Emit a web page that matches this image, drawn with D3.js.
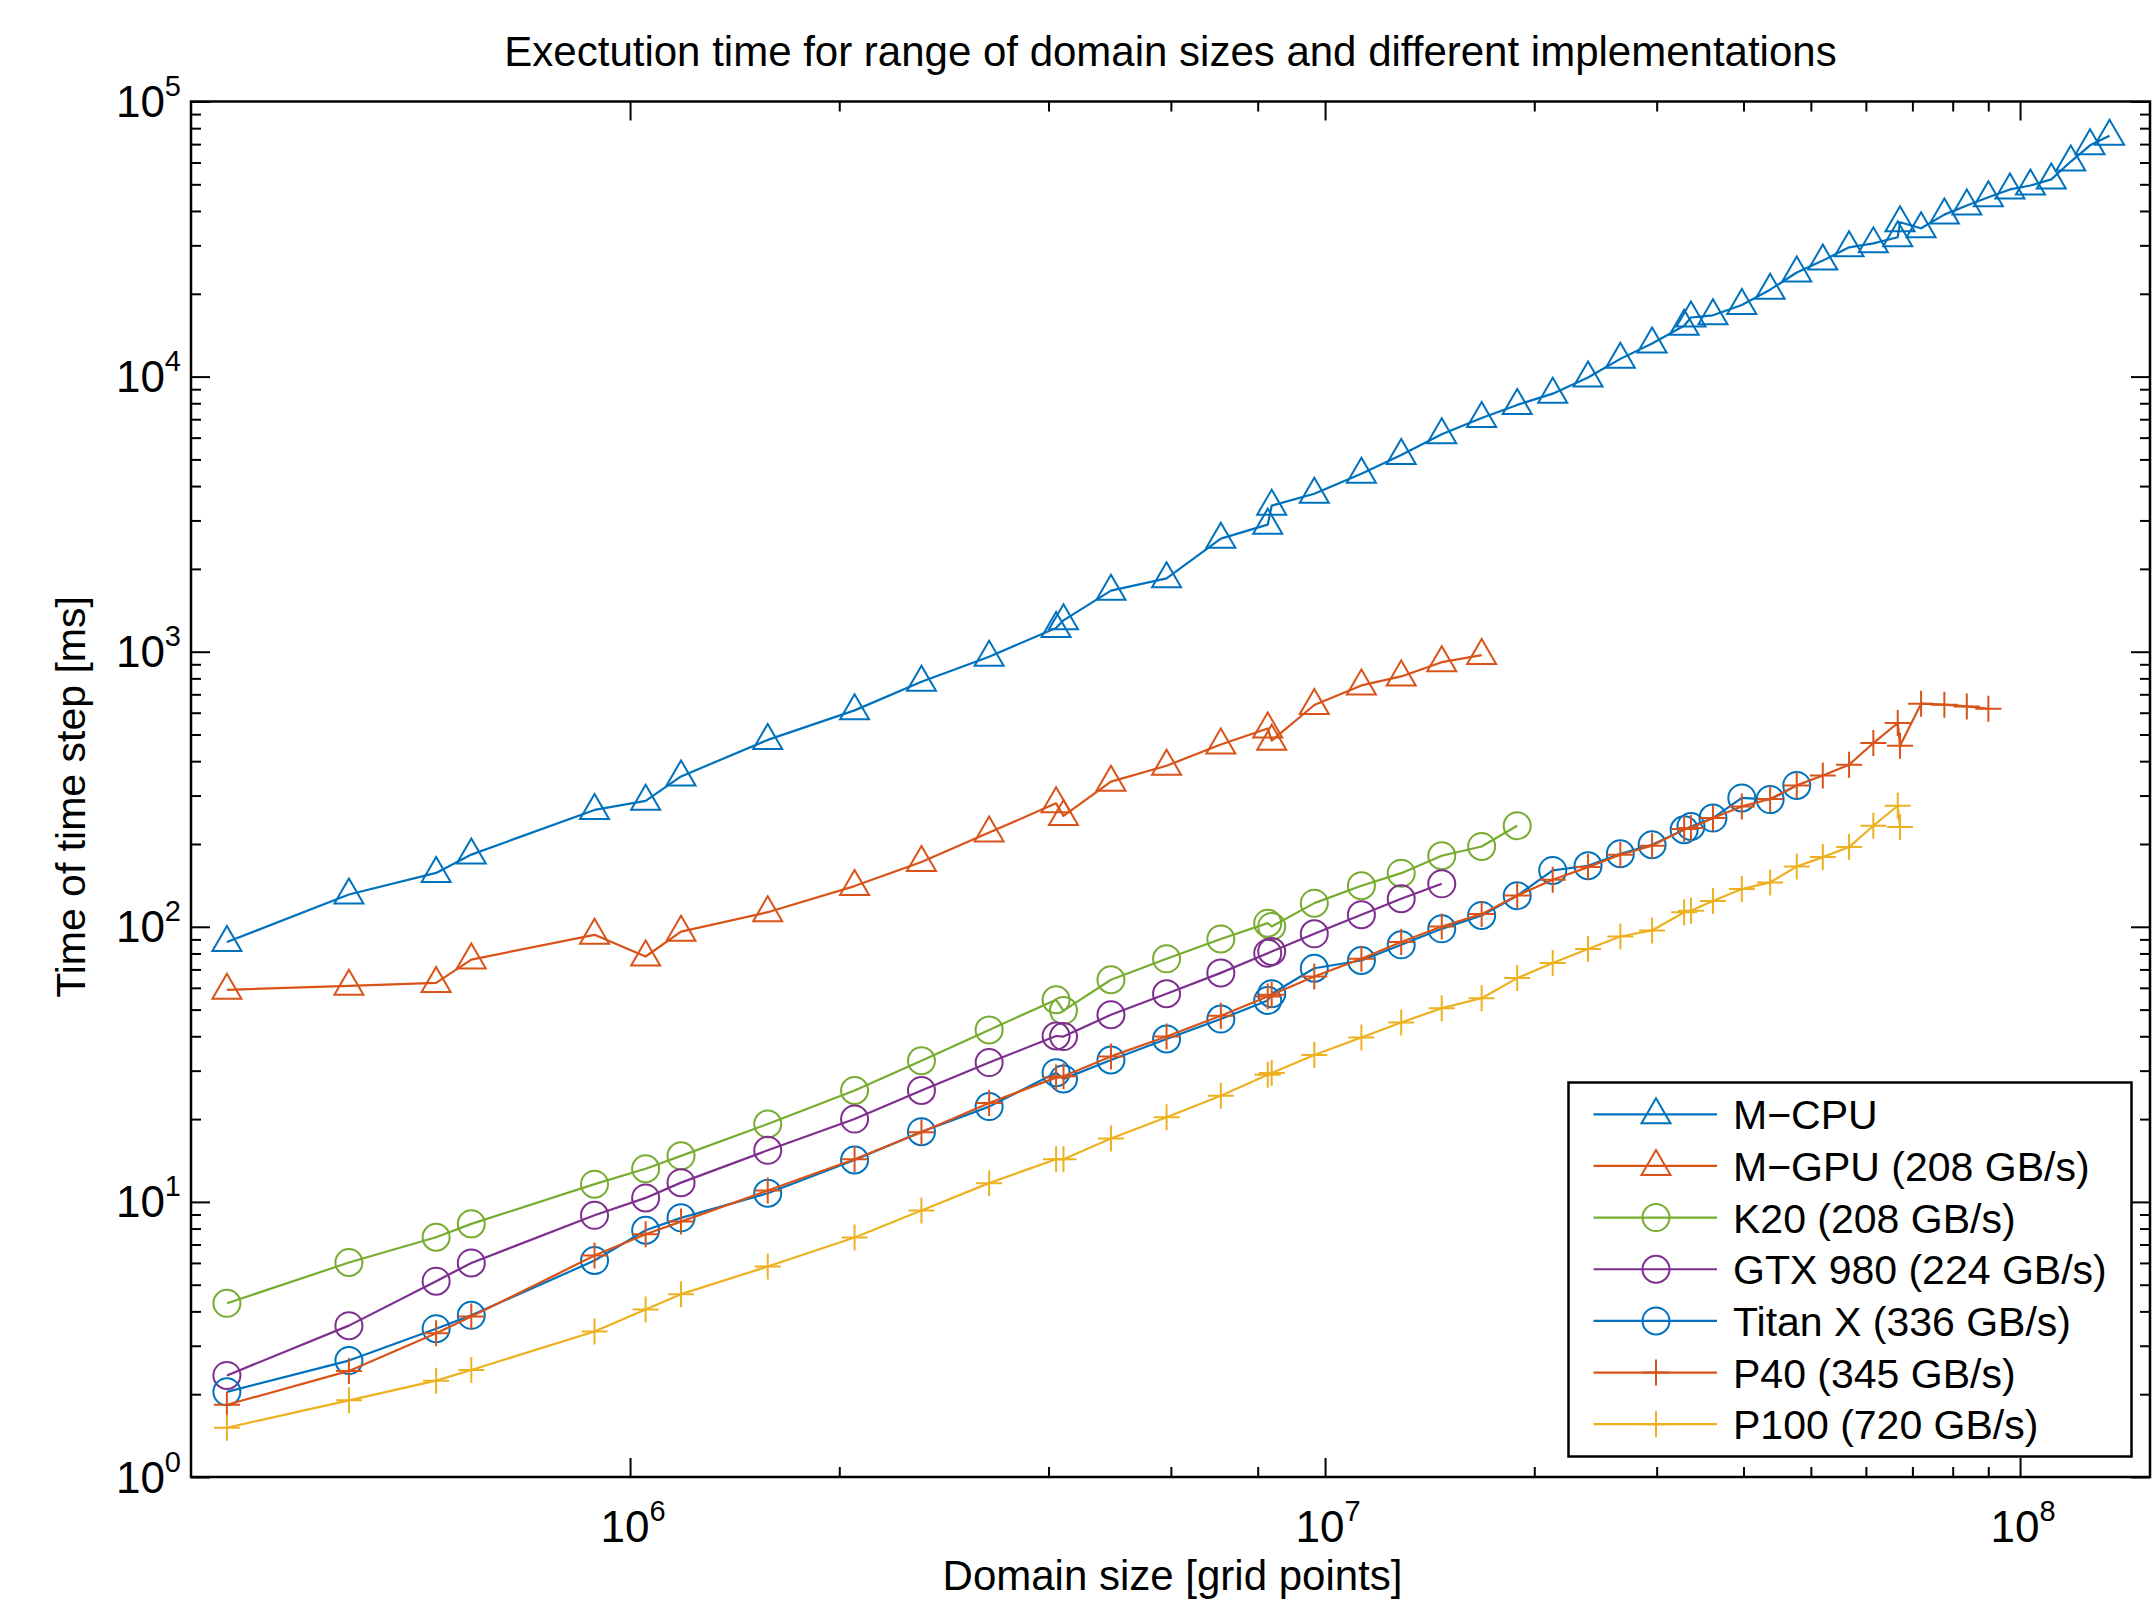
<!DOCTYPE html>
<html lang="en">
<head>
<meta charset="utf-8">
<script src="https://d3js.org/d3.v7.min.js"></script>
<title>Execution time for range of domain sizes</title>
<style>
  body { margin: 0; background: #fff; }
  svg text { font-family: "Liberation Sans", Arial, Helvetica, sans-serif; fill: #000; }
</style>
</head>
<body>
<div id="chart"></div>
<script>
// domain sizes (grid points), shared by all series; each series uses the first N of them
var domainSizes = [263000, 394000, 526000, 591000, 889000, 1053000, 1184000, 1578000, 2104000, 2626000,
  3286000, 4102000, 4204000, 4920000, 5915000, 7080000, 8270000, 8380000, 9650000, 11280000,
  12870000, 14720000, 16800000, 18900000, 21260000, 23900000, 26600000, 29550000, 32860000, 33610000,
  36150000, 39780000, 43690000, 47720000, 52020000, 56750000, 61500000, 66680000, 67190000, 72040000,
  77820000, 83830000, 90040000, 96700000, 103500000, 110900000, 118300000, 126100000, 134500000];

// time of time step [ms]
var mCpu = [88, 131, 157, 183, 266, 287, 352, 478, 612, 778,
  959, 1220, 1300, 1667, 1848, 2576, 2896, 3396, 3750, 4435,
  5190, 6170, 7070, 7890, 8670, 9930, 11600, 13200, 15300, 16400,
  16700, 18200, 20700, 23900, 26400, 29500, 30500, 32100, 36400, 34600,
  38800, 41900, 44900, 47900, 49500, 52100, 60500, 69300, 75100];
var mGpu = [59, 61, 62.5, 76, 93.5, 78, 96, 113, 140.6, 172,
  220, 281, 253, 337, 385, 460, 526, 475, 640, 754,
  813, 916, 972];
var k20 = [4.28, 6.02, 7.44, 8.32, 11.6, 13.2, 14.7, 19.2, 25.4, 32.6,
  42.2, 54.3, 49.6, 64.2, 76.5, 90.3, 103.1, 100.3, 121.9, 141,
  156.7, 181.2, 195.9, 233];
var gtx980 = [2.34, 3.55, 5.15, 6.0, 8.94, 10.34, 11.75, 15.4, 20.0, 25.4,
  32.1, 40.1, 39.9, 47.9, 57.1, 68, 80.2, 81.3, 94.3, 110.6,
  126.5, 143.3];
var titanX = [2.04, 2.65, 3.46, 3.87, 6.12, 7.89, 8.75, 10.75, 14.2, 18.0,
  22.2, 29.5, 28.0, 32.8, 39.1, 46.2, 54.0, 57.1, 70.7, 75.4,
  86.0, 98.3, 110, 129.7, 160.3, 166.7, 184.3, 198.7, 225.3, 231.7,
  248.5, 294, 290, 326.6];
var p40 = [1.83, 2.43, 3.33, 3.83, 6.38, 7.63, 8.48, 11.0, 14.3, 17.9,
  22.9, 28.3, 28.6, 33.8, 39.9, 47.5, 55.8, 56.6, 66.0, 76.5,
  88.0, 100.3, 111.2, 130, 148.2, 164.8, 182.8, 197, 226.5, 228.4,
  248.5, 273.9, 291.3, 326.6, 354.9, 388.2, 465.6, 550.6, 455.2, 647.1,
  641.7, 632.7, 620.4];
var p100 = [1.51, 1.90, 2.24, 2.45, 3.38, 4.06, 4.62, 5.82, 7.42, 9.30,
  11.7, 14.3, 14.3, 17.0, 20.3, 24.3, 29.0, 29.4, 34.2, 39.6,
  44.9, 50.6, 55.0, 65.1, 73.8, 83.0, 92.2, 97.0, 113, 114.3,
  124, 137.1, 145, 165.7, 179.2, 194.9, 233, 275.4, 230.4];

var seriesNames = ["M\u2212CPU", "M\u2212GPU (208 GB/s)", "K20 (208 GB/s)", "GTX 980 (224 GB/s)",
  "Titan X (336 GB/s)", "P40 (345 GB/s)", "P100 (720 GB/s)"];
var seriesValues = [mCpu, mGpu, k20, gtx980, titanX, p40, p100];
var seriesColors = ["#0072BD", "#D95319", "#77AC30", "#7E2F8E", "#0072BD", "#D95319", "#EDB120"];
var seriesMarkers = ["triangle", "triangle", "circle", "circle", "circle", "plus", "plus"];

var xMajor = [1e6, 1e7, 1e8];
var xExp = ["6", "7", "8"];
var yMajor = [1, 10, 100, 1000, 10000, 100000];
var yExp = ["0", "1", "2", "3", "4", "5"];

var width = 2154, height = 1609;
var margin = {top: 101.5, right: 4, bottom: 132, left: 191};
var x0 = margin.left, x1 = width - margin.right;
var y0 = height - margin.bottom, y1 = margin.top;

var x = d3.scaleLog().domain([233500, 1.538e8]).range([x0, x1]);
var y = d3.scaleLog().domain([1, 1e5]).range([y0, y1]);

// minor ticks: integer multiples 2..9 of each decade
function minorOf(scale) {
  return scale.ticks(60).filter(function(v) {
    var m = v / Math.pow(10, Math.floor(Math.log10(v) + 1e-9));
    return Math.abs(m - Math.round(m)) < 1e-6 && Math.round(m) > 1;
  });
}
var xMinor = minorOf(x);
var yMinor = minorOf(y);

var svg = d3.select("#chart").append("svg")
  .attr("width", width).attr("height", height)
  .style("background", "#fff");

// tick marks (inward, on all four sides)
function ticks(axisGen, values, size, transform) {
  svg.append("g").attr("transform", transform)
    .call(axisGen.tickValues(values).tickSize(-size).tickFormat(""))
    .call(function(g) { g.select(".domain").remove(); })
    .selectAll("line").attr("stroke", "#000").attr("stroke-width", 2);
}
ticks(d3.axisBottom(x), xMinor, 10, "translate(0," + y0 + ")");
ticks(d3.axisBottom(x), xMajor, 19, "translate(0," + y0 + ")");
ticks(d3.axisTop(x), xMinor, 10, "translate(0," + y1 + ")");
ticks(d3.axisTop(x), xMajor, 19, "translate(0," + y1 + ")");
ticks(d3.axisLeft(y), yMinor, 10, "translate(" + x0 + ",0)");
ticks(d3.axisLeft(y), yMajor, 19, "translate(" + x0 + ",0)");
ticks(d3.axisRight(y), yMinor, 10, "translate(" + x1 + ",0)");
ticks(d3.axisRight(y), yMajor, 19, "translate(" + x1 + ",0)");

// tick labels 10^k
var xl = svg.append("g").selectAll("text").data(xMajor).enter().append("text")
  .attr("x", function(d) { return x(d) + 3; })
  .attr("y", y0 + 65)
  .attr("text-anchor", "middle")
  .style("font-size", "44px");
xl.append("tspan").text("10");
xl.append("tspan").attr("dy", -21).style("font-size", "29px").text(function(d, i) { return xExp[i]; });

var yl = svg.append("g").selectAll("text").data(yMajor).enter().append("text")
  .attr("x", x0 - 10)
  .attr("y", function(d) { return y(d) + 15.5; })
  .attr("text-anchor", "end")
  .style("font-size", "44px");
yl.append("tspan").text("10");
yl.append("tspan").attr("dy", -21).style("font-size", "29px").text(function(d, i) { return yExp[i]; });

// series
var line = d3.line()
  .x(function(d) { return x(d[0]); })
  .y(function(d) { return y(d[1]); });

function drawMarker(g, type, color) {
  if (type === "triangle") {
    g.append("path").attr("d", "M0,-16L14.5,9L-14.5,9Z")
      .attr("fill", "none").attr("stroke", color).attr("stroke-width", 2);
  } else if (type === "circle") {
    g.append("circle").attr("r", 13.5)
      .attr("fill", "none").attr("stroke", color).attr("stroke-width", 2);
  } else {
    g.append("path").attr("d", "M-13,0H13M0,-13V13")
      .attr("fill", "none").attr("stroke", color).attr("stroke-width", 2);
  }
}

var plot = svg.append("g");
seriesValues.forEach(function(vals, s) {
  var pts = vals.map(function(v, i) { return [domainSizes[i], v]; });
  plot.append("path").datum(pts)
    .attr("d", line)
    .attr("fill", "none")
    .attr("stroke", seriesColors[s])
    .attr("stroke-width", 2.2)
    .attr("stroke-linejoin", "round");
  plot.selectAll(null).data(pts).enter().append("g")
    .attr("transform", function(d) { return "translate(" + x(d[0]) + "," + y(d[1]) + ")"; })
    .each(function() { drawMarker(d3.select(this), seriesMarkers[s], seriesColors[s]); });
});

// axes box
svg.append("rect")
  .attr("x", x0).attr("y", y1)
  .attr("width", x1 - x0).attr("height", y0 - y1)
  .attr("fill", "none").attr("stroke", "#000").attr("stroke-width", 2.5);

// title and axis labels
svg.append("text")
  .attr("x", (x0 + x1) / 2).attr("y", 66)
  .attr("text-anchor", "middle")
  .style("font-size", "42px")
  .text("Exectution time for range of domain sizes and different implementations");

svg.append("text")
  .attr("x", (x0 + x1) / 2 + 2).attr("y", 1590)
  .attr("text-anchor", "middle")
  .style("font-size", "42px")
  .text("Domain size [grid points]");

svg.append("text")
  .attr("transform", "translate(85," + 797 + ") rotate(-90)")
  .attr("text-anchor", "middle")
  .style("font-size", "41px")
  .text("Time of time step [ms]");

// legend
var lx = 1568.5, ly = 1082.5, lw = 563, lh = 374, rowH = 51.65;
var legend = svg.append("g");
legend.append("rect")
  .attr("x", lx).attr("y", ly).attr("width", lw).attr("height", lh)
  .attr("fill", "#fff").attr("stroke", "#000").attr("stroke-width", 2.5);
seriesNames.forEach(function(name, s) {
  var cy = 1114.3 + s * rowH;
  legend.append("line")
    .attr("x1", 1593.5).attr("x2", 1717).attr("y1", cy).attr("y2", cy)
    .attr("stroke", seriesColors[s]).attr("stroke-width", 2.2);
  var m = legend.append("g").attr("transform", "translate(1656," + cy + ")");
  drawMarker(m, seriesMarkers[s], seriesColors[s]);
  legend.append("text")
    .attr("x", 1733).attr("y", cy + 15)
    .style("font-size", "41px")
    .text(name);
});
</script>
</body>
</html>
